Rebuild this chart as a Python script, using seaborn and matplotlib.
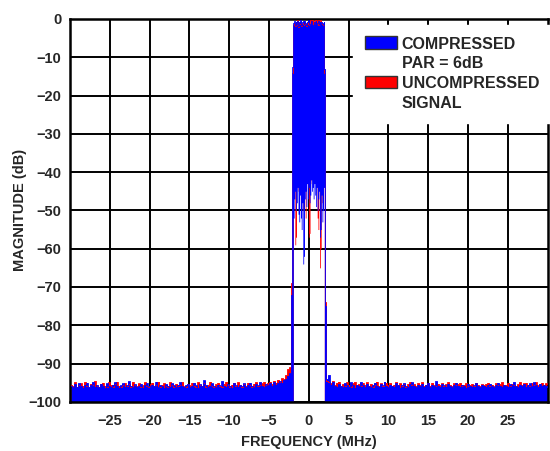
import numpy as np
import pandas as pd
import seaborn as sns
import matplotlib.pyplot as plt
from matplotlib.patches import Patch, Rectangle
from matplotlib.legend_handler import HandlerPatch

# noise floor, 0.25 MHz grid; left side starts at -29.875, right side at 2.25
blue_left = [-95.8, -96.2, -95.4, -96.0, -95.1, -95.9, -96.3, -95.5, -95.0, -96.1,
             -95.7, -94.8, -96.0, -95.6, -96.2, -95.3, -95.9, -96.4, -95.2, -95.8,
             -96.1, -95.5, -94.9, -95.9, -96.3, -95.7, -95.2, -96.0, -95.6, -94.6,
             -95.8, -96.2, -95.4, -96.0, -95.9, -95.3, -96.3, -95.7, -95.1, -95.9,
             -96.1, -95.5, -95.8, -94.7, -96.2, -95.6, -95.9, -96.3, -95.4, -95.8,
             -96.0, -95.2, -95.7, -96.2, -95.5, -94.9, -95.9, -96.1, -95.6, -95.3,
             -96.2, -95.8, -95.0, -95.7, -96.3, -95.4, -95.9, -94.4, -95.6, -96.1,
             -95.8, -95.2, -95.9, -96.2, -95.5, -95.7, -94.6, -95.9, -96.0, -95.4,
             -95.8, -96.3, -95.1, -95.7, -96.0, -95.5, -95.9, -95.2, -96.1, -95.6,
             -95.0, -95.8, -96.2, -95.4, -95.7, -94.8, -95.9, -96.1, -95.3, -95.6,
             -95.2, -95.8, -94.9, -95.5, -95.1, -94.6, -95.0, -94.3, -94.0, -93.2,
             -92.5]
red_left = [-95.5, -95.9, -94.9, -96.1, -95.6, -95.2, -95.8, -94.8, -95.9, -96.2,
            -95.3, -95.7, -94.6, -95.9, -96.1, -95.4, -95.0, -95.8, -96.2, -94.9,
            -95.6, -96.0, -95.3, -94.7, -95.8, -96.1, -95.5, -95.1, -95.9, -95.4,
            -96.2, -94.8, -95.6, -95.9, -95.2, -96.0, -95.7, -94.9, -95.8, -96.2,
            -95.4, -95.0, -95.9, -95.6, -94.7, -96.1, -95.5, -95.2, -95.8, -96.0,
            -94.9, -95.6, -96.2, -95.3, -95.8, -95.5, -94.8, -95.9, -96.1, -95.4,
            -95.7, -95.0, -95.9, -96.2, -94.9, -95.5, -95.8, -95.2, -96.0, -95.6,
            -94.7, -95.9, -96.1, -95.4, -95.0, -95.8, -96.2, -95.3, -94.8, -95.7,
            -96.0, -95.5, -95.2, -95.9, -94.9, -95.6, -96.1, -95.4, -95.8, -95.0,
            -95.7, -96.2, -95.3, -94.9, -95.9, -95.5, -95.2, -94.8, -95.6, -95.1,
            -94.7, -95.4, -94.5, -95.0, -94.2, -94.8, -93.9, -94.0, -93.0, -91.5,
            -91.0]
blue_right = [-94.0, -93.0, -95.5, -94.8, -95.9, -96.1, -95.4, -95.8, -96.2, -95.1,
              -95.7, -96.0, -94.9, -95.6, -96.3, -95.5, -95.9, -94.8, -95.7, -96.1,
              -95.3, -95.8, -96.2, -95.6, -95.0, -95.9, -96.1, -95.4, -95.7, -94.7,
              -95.9, -96.2, -95.5, -95.8, -96.0, -95.2, -95.7, -96.3, -95.6, -95.1,
              -95.9, -96.1, -95.4, -94.9, -95.8, -96.2, -95.5, -95.9, -95.3, -96.0,
              -95.7, -95.1, -96.2, -95.6, -95.9, -94.6, -95.8, -96.1, -95.4, -95.7,
              -96.0, -95.3, -95.9, -96.2, -95.6, -95.0, -95.8, -96.1, -95.5, -95.9,
              -96.3, -95.4, -95.8, -96.0, -95.7, -95.2, -95.9, -96.2, -95.5, -95.8,
              -96.1, -95.6, -95.3, -95.9, -96.2, -95.7, -95.0, -95.8, -96.1, -95.5,
              -95.9, -96.0, -95.4, -95.7, -94.8, -95.9, -96.2, -95.6, -95.8, -95.3,
              -96.1, -95.7, -95.2, -95.9, -94.9, -95.6, -96.0, -95.4, -95.8, -95.5,
              -95.9, -96.1]
red_right = [-94.5, -94.8, -95.2, -94.6, -95.6, -95.0, -94.7, -95.9, -95.4, -95.8,
             -94.9, -95.5, -96.0, -95.2, -94.8, -95.7, -95.4, -95.9, -95.1, -95.6,
             -94.9, -95.8, -95.3, -96.0, -95.5, -94.7, -95.8, -95.2, -95.9, -95.4,
             -95.0, -95.7, -95.1, -95.9, -95.5, -94.9, -95.6, -95.2, -95.8, -95.4,
             -96.0, -95.3, -94.8, -95.7, -95.4, -95.9, -95.1, -95.6, -94.9, -95.8,
             -95.5, -95.2, -95.8, -95.0, -95.6, -95.9, -95.3, -95.7, -95.1, -95.8,
             -95.4, -94.8, -95.6, -95.9, -95.2, -95.7, -95.4, -95.0, -95.8, -95.5,
             -95.2, -95.9, -95.6, -95.3, -95.8, -95.0, -95.6, -95.9, -95.4, -95.7,
             -95.3, -95.0, -95.8, -95.5, -95.9, -95.2, -95.6, -95.4, -94.9, -95.7,
             -95.5, -95.1, -95.8, -95.3, -95.6, -95.9, -95.4, -94.8, -95.6, -95.2,
             -95.0, -95.6, -95.8, -95.1, -95.5, -94.9, -95.7, -95.3, -95.0, -95.6,
             -95.2, -95.4]

# signal band, 0.1 MHz grid from -1.9 to 1.9: peak and null of each bin
blue_band_top = [-1, -0.5, -1.5, -0.8, -1.2, -0.5, -1.8, -0.7, -1, -0.4, -1.5, -0.8, -0.6, -1.2,
                 -0.5, -1, -1.6, -0.7, -0.9, -0.4, -1.3, -1.7, -0.6, -1, -1.5, -1.9, -0.8, -1.4,
                 -0.5, -1.6, -1.1, -0.6, -1.2, -0.9, -1.5, -0.7, -1, -1.3, -0.8]
red_band_top = [-1.5, -1, -1.8, -1.2, -1.5, -0.2, -2, -1, -1.3, -0.8, -1.8, -1.2, -1, -1.5,
                -0.9, -1.4, -1.9, -1, -1.2, -0.8, -1.5, -0.3, -0.2, -1.4, -0.4, -0.5, -1.2, -0.3,
                -0.9, -0.2, -1.5, -0.2, -1.6, -1.3, -0.4, -1.1, -1.4, -1.6, -1.2]
blue_band_low = [-52, -47, -45, -50, -48, -44, -51, -53, -46, -52, -55, -48, -64, -62, -47, -45,
                 -49, -43, -47, -44, -48, -46, -42, -45, -44, -47, -43, -46, -49, -44, -50, -47,
                 -45, -57, -55, -46, -53, -50, -44]
red_band_low = [-46, -42, -59, -57, -43, -42, -45, -44, -43, -47, -46, -44, -50, -49, -44, -52,
                -43, -42, -44, -57, -56, -43, -42, -41, -42, -43, -42, -41, -43, -42, -52, -55,
                -43, -65, -60, -42, -48, -43, -42]

# band edges: shoulder at -2.1/2.1, skirt at -2.0/2.0
edge_freq_left = [-2.1, -2.0]
edge_freq_right = [2.0, 2.1]
blue_edge_left = [-72, -12.5]
red_edge_left = [-69, -14]
blue_edge_right = [-13, -75]
red_edge_right = [-14, -74]

floor = -100


def build(name, left, e_left, top, low, e_right, right):
    f_left = -29.875 + 0.25 * np.arange(len(left))
    f_band = np.round(-1.9 + 0.1 * np.arange(len(top)), 2)
    f_right = 2.25 + 0.25 * np.arange(len(right))
    freq = np.concatenate([f_left, edge_freq_left, f_band, edge_freq_right, f_right])
    mag = np.concatenate([left, e_left, top, e_right, right])
    lo = np.concatenate([[floor] * len(left), [floor] * 2, low, [floor] * 2, [floor] * len(right)])
    return pd.DataFrame({'freq': freq, 'mag': mag, 'low': lo, 'series': name})


# legend swatch sits next to the first line of a two line label
class FirstLinePatch(HandlerPatch):
    def create_artists(self, legend, orig_handle, xdescent, ydescent, width, height, fontsize, trans):
        p = Rectangle((-xdescent, -ydescent + 0.75 * fontsize), width, height,
                      facecolor=orig_handle.get_facecolor(), edgecolor='#333333', lw=1,
                      transform=trans)
        return [p]


df_red = build('red', red_left, red_edge_left, red_band_top, red_band_low, red_edge_right, red_right)
df_blue = build('blue', blue_left, blue_edge_left, blue_band_top, blue_band_low, blue_edge_right, blue_right)

sns.set_style('white')
plt.rcParams['font.family'] = ['Liberation Sans', 'DejaVu Sans']
plt.rcParams['font.weight'] = 'bold'

fig = plt.figure(figsize=(5.5, 4.51), dpi=100)
ax = fig.add_axes([0.127, 0.109, 0.869, 0.849])

for d, c in [(df_red, '#ff0000'), (df_blue, '#0000ff')]:
    ax.fill_between(d['freq'], d['low'], d['mag'], step='mid', color=c, lw=0, zorder=2)
    sns.lineplot(data=d, x='freq', y='mag', color=c, lw=0.6, drawstyle='steps-mid',
                 estimator=None, sort=False, ax=ax, zorder=3)

ax.set_xlim(-30, 30)
ax.set_ylim(-100, 0)
ax.set_xticks(np.arange(-25, 26, 5))
ax.set_yticks(np.arange(-100, 1, 10))
ax.grid(True, color='black', lw=1.4, zorder=0)
ax.set_axisbelow(True)
for s in ax.spines.values():
    s.set_color('black')
    s.set_linewidth(1.8)
ax.tick_params(axis='x', length=0, labelsize=10.5, pad=9)
ax.tick_params(axis='y', length=0, labelsize=10.5, pad=6)
for lab in ax.get_xticklabels() + ax.get_yticklabels():
    lab.set_fontweight('bold')
ax.set_xlabel('FREQUENCY (MHz)', fontsize=10.5, fontweight='bold', labelpad=5)
ax.set_ylabel('MAGNITUDE (dB)', fontsize=10.5, fontweight='bold', labelpad=1)

handles = [Patch(facecolor='#0000ff'), Patch(facecolor='#ff0000')]
leg = ax.legend(handles, ['COMPRESSED\nPAR = 6dB', 'UNCOMPRESSED\nSIGNAL'],
                loc='upper left', bbox_to_anchor=(0.592, 0.985), borderaxespad=0,
                frameon=True, fancybox=False, framealpha=1, edgecolor='white',
                prop={'weight': 'bold', 'size': 11.5}, handlelength=2.0, handleheight=0.85,
                handletextpad=0.3, labelspacing=0.35, borderpad=0.75,
                handler_map={Patch: FirstLinePatch()})
for t in leg.get_texts():
    t.set_linespacing(1.35)
leg.set_zorder(5)

fig.savefig('out.png', dpi=100)
